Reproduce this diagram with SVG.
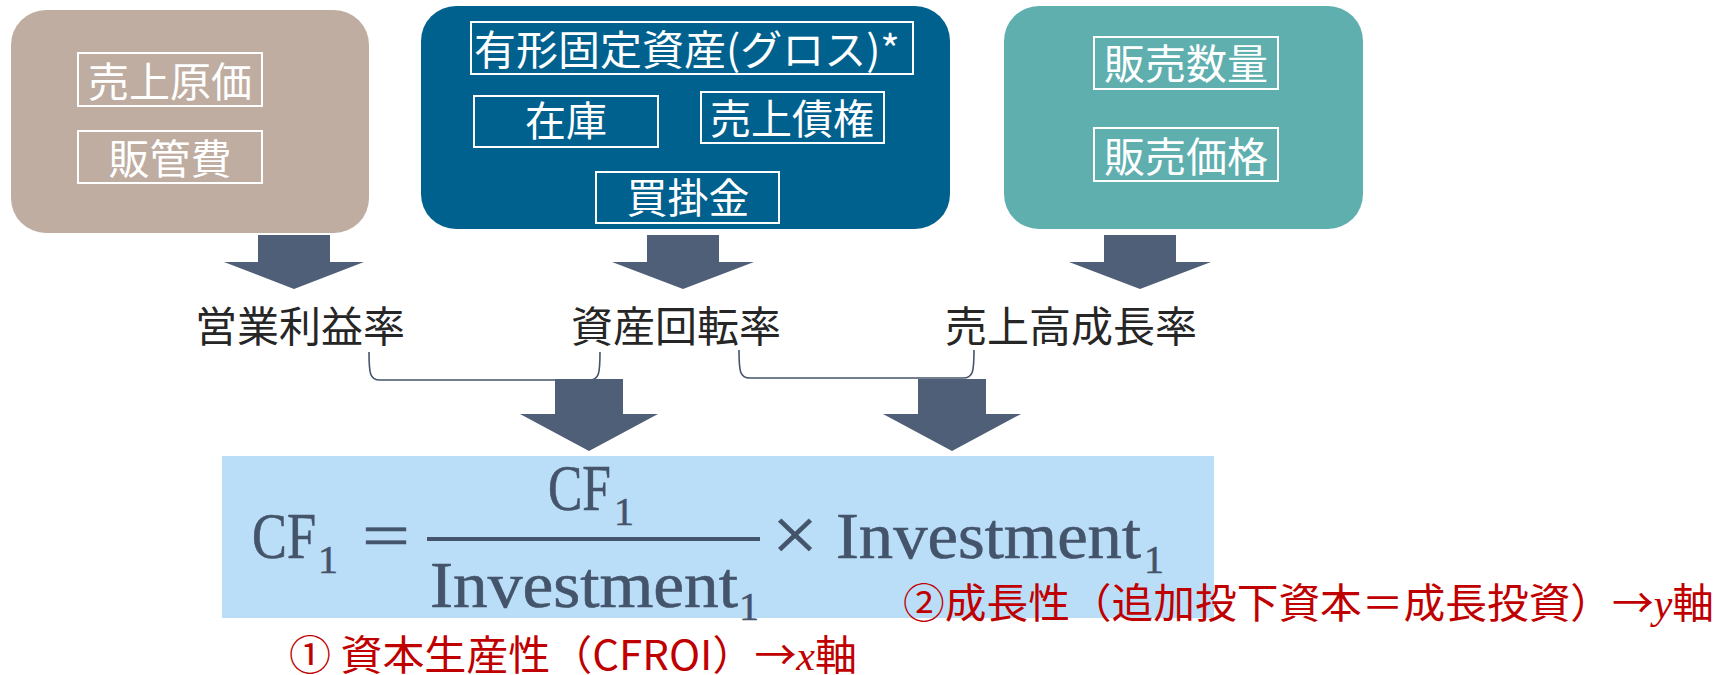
<svg xmlns="http://www.w3.org/2000/svg" width="1720" height="675" viewBox="0 0 1720 675">
<defs>
<style>
.cj{font-family:"Noto Sans CJK JP","Noto Sans CJK SC",sans-serif}
.lab{font-size:41px;fill:#fff;text-anchor:middle}
.ib{fill:none;stroke:#fff;stroke-width:2}
.arr{fill:#505F78}
.br{fill:none;stroke:#44546A;stroke-width:1.6}
.met{font-size:42px;fill:#262626;text-anchor:middle}
.fm{font-family:"Liberation Serif","DejaVu Serif",serif;fill:#44546A;stroke:#44546A;stroke-width:0.6}
.big{font-size:65px}
.sub{font-size:40px}
.red{font-size:41px;fill:#C00000}
.it{font-family:"Liberation Serif",serif;font-style:italic}
</style>
</defs>
<rect width="1720" height="675" fill="#fff"/>

<g id="cost">
<rect x="11" y="10" width="358" height="223" rx="35" fill="#BEADA0"/>
<rect class="ib" x="78" y="53" width="184" height="53"/>
<text class="cj lab" x="170" y="97">売上原価</text>
<rect class="ib" x="78" y="131" width="184" height="52"/>
<text class="cj lab" x="170" y="174">販管費</text>
</g>

<g id="asset">
<rect x="421" y="6" width="529" height="223" rx="35" fill="#00618F"/>
<rect class="ib" x="471" y="22" width="442" height="52"/>
<text class="cj" x="474" y="65" font-size="41" fill="#fff" textLength="426" lengthAdjust="spacingAndGlyphs">有形固定資産(グロス)*</text>
<rect class="ib" x="474" y="96" width="184" height="51"/>
<text class="cj lab" x="566" y="136">在庫</text>
<rect class="ib" x="701" y="92" width="183" height="51"/>
<text class="cj lab" x="792" y="134">売上債権</text>
<rect class="ib" x="596" y="172" width="183" height="51"/>
<text class="cj lab" x="688" y="213">買掛金</text>
</g>

<g id="sales">
<rect x="1004" y="6" width="359" height="223" rx="35" fill="#5FAFAF"/>
<rect class="ib" x="1094" y="37" width="184" height="52"/>
<text class="cj lab" x="1186" y="79">販売数量</text>
<rect class="ib" x="1094" y="128" width="184" height="53"/>
<text class="cj lab" x="1186" y="172">販売価格</text>
</g>

<g id="margin"><text class="cj met" x="300" y="342">営業利益率</text></g>
<g id="turnover"><text class="cj met" x="676" y="342">資産回転率</text></g>
<g id="growth"><text class="cj met" x="1071" y="342">売上高成長率</text></g>

<g id="connectors">
<path class="br" d="M369,352 C369,374 370,380 380,380 L589,380 C599,380 600,374 600,352"/>
<path class="br" d="M739,350 C739,372 740,378 750,378 L963,378 C973,378 974,372 974,350"/>
<polygon class="arr" points="258,235 330,235 330,262 364,262 294,289 224,262 258,262"/>
<polygon class="arr" points="647,235 719,235 719,262 754,262 683,289 612,262 647,262"/>
<polygon class="arr" points="1104,235 1176,235 1176,262 1211,262 1140,289 1069,262 1104,262"/>
<polygon class="arr" points="555,379 623,379 623,414 658,414 589,451 520,414 555,414"/>
<polygon class="arr" points="918,379 986,379 986,414 1021,414 952,451 883,414 918,414"/>
</g>

<g id="formula">
<rect x="222" y="456" width="992" height="162" fill="#BBDEF8"/>
<text class="fm big" x="252" y="558" textLength="64" lengthAdjust="spacingAndGlyphs">CF</text>
<text class="fm sub" x="318" y="573">1</text>
<text class="fm big" x="362" y="558" textLength="48" lengthAdjust="spacingAndGlyphs">=</text>
<line x1="427" y1="539" x2="760" y2="539" stroke="#44546A" stroke-width="4"/>
<text class="fm big" x="548" y="510" textLength="63" lengthAdjust="spacingAndGlyphs">CF</text>
<text class="fm sub" x="614" y="525">1</text>
<text class="fm big" x="430" y="607" textLength="308" lengthAdjust="spacingAndGlyphs">Investment</text>
<text class="fm sub" x="739" y="620">1</text>
<text class="fm" x="772" y="561" font-size="78" textLength="46" lengthAdjust="spacingAndGlyphs">×</text>
<text class="fm big" x="836" y="558" textLength="305" lengthAdjust="spacingAndGlyphs">Investment</text>
<text class="fm sub" x="1144" y="573">1</text>
</g>

<g id="notes">
<text class="cj red" x="289" y="670" textLength="568" lengthAdjust="spacingAndGlyphs">① 資本生産性（CFROI）→<tspan class="it">x</tspan>軸</text>
<text class="cj red" x="903" y="618" textLength="811" lengthAdjust="spacingAndGlyphs">②成長性（追加投下資本＝成長投資）→<tspan class="it">y</tspan>軸</text>
</g>
</svg>
